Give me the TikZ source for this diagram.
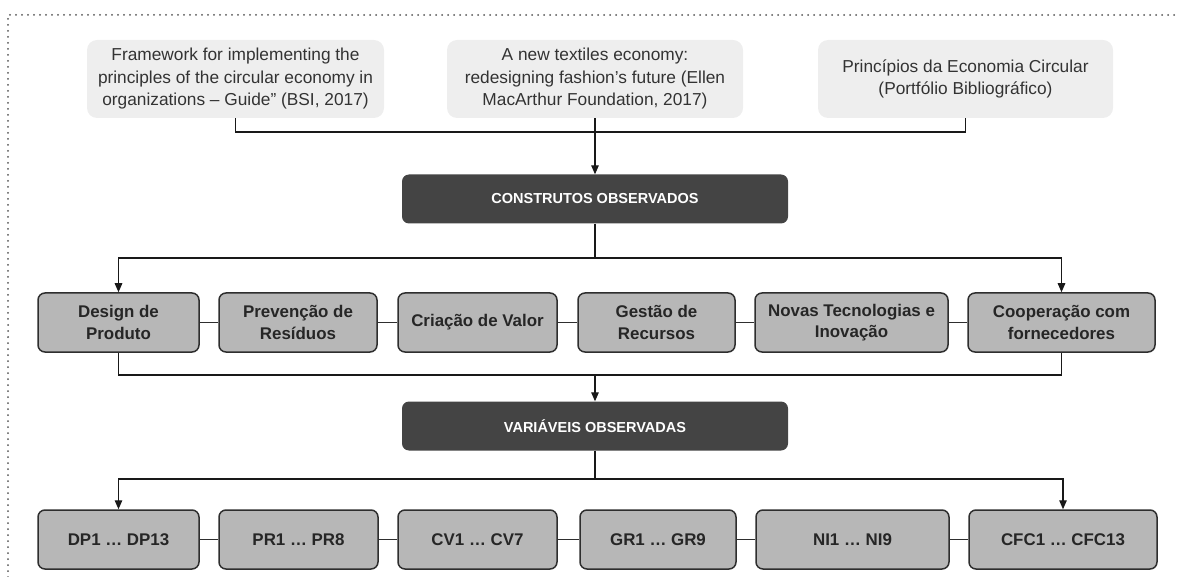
\documentclass[tikz,border=0pt]{standalone}
\usepackage{fontspec}
\setmainfont{Liberation Sans}
\usetikzlibrary{arrows.meta}
\definecolor{srcfill}{HTML}{EEEEEE}
\definecolor{srctext}{HTML}{333333}
\definecolor{boxfill}{HTML}{B7B7B7}
\definecolor{boxline}{HTML}{2E2E2E}
\definecolor{darkfill}{HTML}{444444}
\definecolor{framecol}{HTML}{555555}
\tikzset{
  srcbox/.style={fill=srcfill, rounded corners=10pt, inner sep=0pt, align=center,
     text=srctext, font=\fontsize{17.3}{22.5}\selectfont},
  rowbox/.style={fill=boxfill, draw=boxline, line width=1.5pt, rounded corners=7pt,
     inner sep=0pt, align=center, minimum height=59pt,
     font=\fontsize{16.9}{21.5}\selectfont\bfseries, text=black!85},
  darkbox/.style={fill=darkfill, rounded corners=7pt, inner sep=0pt,
     minimum width=386pt, minimum height=49pt, text=white,
     font=\fontsize{14.5}{16}\selectfont\bfseries},
  conn/.style={draw=black!90, line width=1.3pt},
  arr/.style={conn, -{Triangle[length=9pt,width=7.5pt]}},
  link/.style={draw=boxline, line width=1.4pt},
}
\begin{document}
\begin{tikzpicture}[x=1pt,y=-1pt]
\useasboundingbox (0,0) rectangle (1178,577);
% dotted frame
\draw[framecol, line width=2pt, line cap=round, dash pattern=on 0pt off 6pt]
  (8,577) -- (8,15) -- (1178,15);
% source boxes
\node[srcbox, minimum width=297pt, minimum height=78pt] (s1) at (235.5,79)
  {Framework for implementing the\\principles of the circular economy in\\organizations – Guide” (BSI, 2017)};
\node[srcbox, minimum width=296pt, minimum height=78pt] (s2) at (595,79)
  {A new textiles economy:\\redesigning fashion’s future (Ellen\\MacArthur Foundation, 2017)};
\node[srcbox, minimum width=295pt, minimum height=78pt] (s3) at (965.5,79)
  {Princípios da Economia Circular\\(Portfólio Bibliográfico)};
% dark boxes
\node[darkbox] (c1) at (595,199) {CONSTRUTOS OBSERVADOS};
\node[darkbox] (c2) at (595,426) {VARIÁVEIS OBSERVADAS};
% row 1
\node[rowbox, minimum width=161pt] (r1a) at (118.5,322.5) {Design de\\Produto};
\node[rowbox, minimum width=158pt] (r1b) at (298,322.5) {Prevenção de\\Resíduos};
\node[rowbox, minimum width=159pt] (r1c) at (477.5,322.5) {Criação de Valor};
\node[rowbox, minimum width=157pt] (r1d) at (656.5,322.5) {Gestão de\\Recursos};
\node[rowbox, minimum width=193pt] (r1e) at (851.5,322.5) {Novas Tecnologias e\\Inovação};
\node[rowbox, minimum width=187pt] (r1f) at (1061.5,322.5) {Cooperação com\\fornecedores};
% row 2
\node[rowbox, minimum width=161pt] (r2a) at (118.5,539.5) {DP1 … DP13};
\node[rowbox, minimum width=159pt] (r2b) at (298.5,539.5) {PR1 … PR8};
\node[rowbox, minimum width=159pt] (r2c) at (477.5,539.5) {CV1 … CV7};
\node[rowbox, minimum width=156pt] (r2d) at (658,539.5) {GR1 … GR9};
\node[rowbox, minimum width=193pt] (r2e) at (852.5,539.5) {NI1 … NI9};
\node[rowbox, minimum width=188pt] (r2f) at (1063,539.5) {CFC1 … CFC13};
% junctions
\coordinate (j1) at (595,132);
\coordinate (j2) at (595,258);
\coordinate (j3) at (595,375);
\coordinate (j4) at (595,479);
% connectors
\draw[conn] (s1.south) |- (j1) -| (s3.south);
\draw[arr] (s2.south) -- (c1.north);
\draw[conn] (c1.south) -- (j2);
\draw[arr] (j2) -| (r1a.north);
\draw[arr] (j2) -| (r1f.north);
\draw[conn] (r1a.south) |- (j3) -| (r1f.south);
\draw[arr] (j3) -- (c2.north);
\draw[conn] (c2.south) -- (j4);
\draw[arr] (j4) -| (r2a.north);
\draw[arr] (j4) -| (r2f.north);
% row links
\draw[link] (r1a.east) -- (r1b.west);
\draw[link] (r1b.east) -- (r1c.west);
\draw[link] (r1c.east) -- (r1d.west);
\draw[link] (r1d.east) -- (r1e.west);
\draw[link] (r1e.east) -- (r1f.west);
\draw[link] (r2a.east) -- (r2b.west);
\draw[link] (r2b.east) -- (r2c.west);
\draw[link] (r2c.east) -- (r2d.west);
\draw[link] (r2d.east) -- (r2e.west);
\draw[link] (r2e.east) -- (r2f.west);
\end{tikzpicture}
\end{document}
